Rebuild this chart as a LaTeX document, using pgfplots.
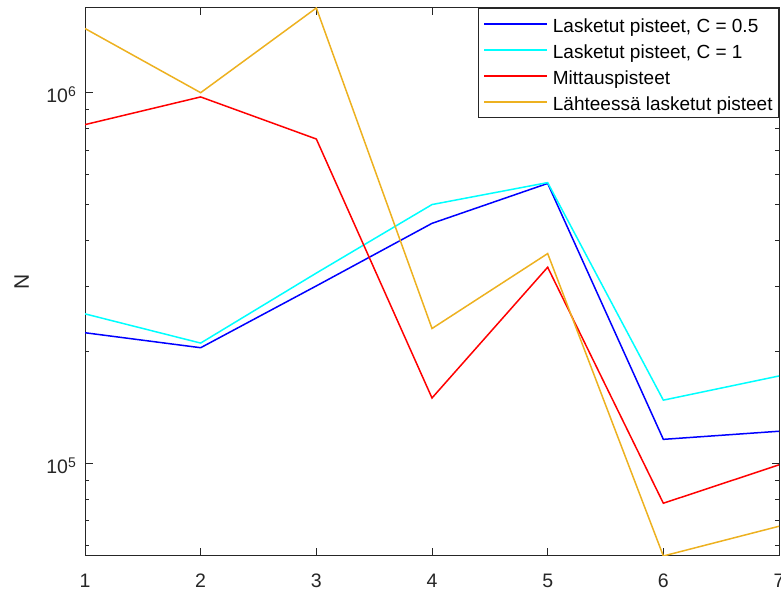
\documentclass[border=0pt]{standalone}
\usepackage{fontspec}
\setmainfont{Liberation Sans}
\usepackage{pgfplots}
\pgfplotsset{compat=1.18}
\definecolor{mblue}{rgb}{0,0,1}
\definecolor{mcyan}{rgb}{0,1,1}
\definecolor{mred}{rgb}{1,0,0}
\definecolor{myellow}{rgb}{0.929,0.694,0.125}
\definecolor{axgray}{rgb}{0.15,0.15,0.15}

\newcommand{\pw}[1]{10\raisebox{6.5pt}{\fontsize{14}{14}\selectfont #1}}

\begin{document}
\begin{tikzpicture}[x=1pt,y=1pt]
\begin{axis}[
  at={(85pt,36pt)}, anchor=south west,
  scale only axis, width=694pt, height=548pt,
  ymode=log,
  xmin=1, xmax=7, ymin=5.62e4, ymax=1.693e6,
  xtick={1,2,3,4,5,6,7},
  ytick={1e5,1e6},
  yticklabels={\pw{5},\pw{6}},
  minor ytick={6e4,7e4,8e4,9e4,2e5,3e5,4e5,5e5,6e5,7e5,8e5,9e5},
  /pgf/number format/assume math mode=true,
  tick align=inside,
  major tick length=7.5pt, minor tick length=4pt,
  axis line style={axgray, line width=1pt},
  tick style={axgray, line width=0.8pt},
  tick label style={font=\fontsize{19.5}{22}\selectfont, text=axgray},
  xticklabel style={anchor=base, yshift=-32pt},
  yticklabel style={anchor=base east, inner sep=0pt, xshift=-9pt, yshift=-10.3pt},
  ylabel={N},
  ylabel style={at={(axis description cs:-0.0912,0.5)}, anchor=center,
    font=\fontsize{21}{24}\selectfont, text=axgray},
  legend style={at={(1,1)}, anchor=north east, draw=axgray, line width=0.8pt,
    fill=white, font=\fontsize{19}{22}\selectfont,
    inner xsep=6pt, inner ysep=2.6pt, row sep=0.4pt,
    nodes={inner sep=0pt, text height=21.7pt, text depth=4pt}},
  legend cell align=left,
  legend image code/.code={%
    \fill[#1, draw=none] (0pt,-0.8pt) rectangle (63pt,0.8pt);
    \path[draw=none, fill=none] (0pt,0pt) -- (68.5pt,0pt);},
]
\addplot[mblue, line width=1.5pt, mark=none] coordinates {
  (1,2.25e5) (2,2.05e5) (3,3.01e5) (4,4.44e5) (5,5.69e5) (6,1.16e5) (7,1.22e5)};
\addlegendentry{Lasketut pisteet, C = 0.5}
\addplot[mcyan, line width=1.5pt, mark=none] coordinates {
  (1,2.53e5) (2,2.11e5) (3,3.26e5) (4,4.99e5) (5,5.72e5) (6,1.48e5) (7,1.72e5)};
\addlegendentry{Lasketut pisteet, C = 1}
\addplot[mred, line width=1.5pt, mark=none] coordinates {
  (1,8.2e5) (2,9.74e5) (3,7.5e5) (4,1.5e5) (5,3.38e5) (6,7.8e4) (7,9.9e4)};
\addlegendentry{Mittauspisteet}
\addplot[myellow, line width=1.5pt, mark=none] coordinates {
  (1,1.49e6) (2,1.0e6) (3,1.693e6) (4,2.31e5) (5,3.68e5) (6,5.62e4) (7,6.76e4)};
\addlegendentry{Lähteessä lasketut pisteet}
\end{axis}
\pgfresetboundingbox
\path (0,0) rectangle (781,592);
\end{tikzpicture}
\end{document}
